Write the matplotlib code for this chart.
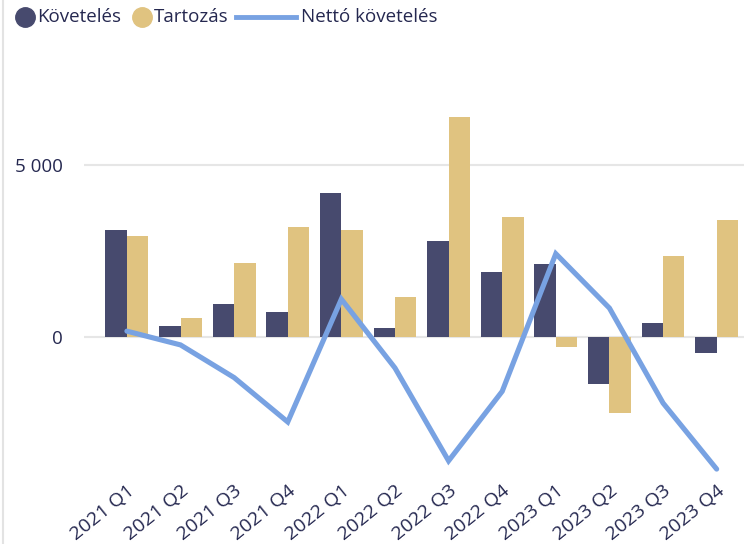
import matplotlib
matplotlib.use("Agg")
import matplotlib.pyplot as plt
from matplotlib.lines import Line2D
from matplotlib.transforms import ScaledTranslation
import numpy as np

categories = ["2021 Q1", "2021 Q2", "2021 Q3", "2021 Q4",
              "2022 Q1", "2022 Q2", "2022 Q3", "2022 Q4",
              "2023 Q1", "2023 Q2", "2023 Q3", "2023 Q4"]
koveteles = [3100, 320, 960, 730, 4190, 260, 2790, 1890, 2120, -1370, 410, -460]
tartozas = [2950, 550, 2150, 3200, 3110, 1160, 6400, 3490, -280, -2200, 2350, 3400]
netto = [170, -230, -1180, -2470, 1100, -900, -3600, -1580, 2420, 840, -1920, -3840]
ytick_vals = [0, 5000]
ytick_labels = ["0", "5 000"]

C_K = "#474A6E"
C_T = "#E0C380"
C_N = "#78A2E2"
C_TXT = "#252850"
FONT = "Open Sans"

plt.rcParams["font.family"] = [FONT, "DejaVu Sans"]

fig = plt.figure(figsize=(7.44, 5.44), dpi=100)
ax = fig.add_axes([84 / 744, 69 / 544, 660 / 744, 435 / 544])

x = np.arange(len(categories))
w = 0.4
ax.bar(x - w / 2, koveteles, width=w, color=C_K, zorder=2)
ax.bar(x + w / 2, tartozas, width=w, color=C_T, zorder=2)
ax.plot(x, netto, color=C_N, lw=3.7, solid_capstyle="round",
        solid_joinstyle="miter", zorder=3)

ax.set_xlim(-0.8, 11.51)
ax.set_ylim(-4012, 8634)
ax.set_yticks(ytick_vals)
ax.set_yticklabels(ytick_labels)
ax.set_xticks(x)
ax.set_xticklabels(categories, rotation=39, ha="right",
                   rotation_mode="anchor")
shift = ScaledTranslation(-6 / 100, 0, fig.dpi_scale_trans)
for lbl in ax.get_xticklabels():
    lbl.set_transform(lbl.get_transform() + shift)
ax.tick_params(axis="both", length=0, colors=C_TXT, labelsize=13.5)
ax.tick_params(axis="x", labelsize=14, pad=5)
ax.tick_params(axis="y", pad=15)
for s in ax.spines.values():
    s.set_visible(False)
ax.set_axisbelow(True)
ax.yaxis.grid(True, color="#E6E6E6", lw=1.5, zorder=0)
ax.xaxis.grid(False)

# left border line
fig.add_artist(Line2D([3 / 744, 3 / 744], [0, 1], color="#E3E3E3", lw=1.5,
                      transform=fig.transFigure))

# legend
ly = 1 - 17 / 544
def fx(px):
    return px / 744
fs_leg = 13.5
fig.add_artist(Line2D([fx(25)], [ly], marker="o", markersize=14,
                      color=C_K, transform=fig.transFigure, lw=0))
fig.text(fx(37), ly, "Követelés", color=C_TXT, fontsize=fs_leg,
         va="center", ha="left")
fig.add_artist(Line2D([fx(142)], [ly], marker="o", markersize=14,
                      color=C_T, transform=fig.transFigure, lw=0))
fig.text(fx(154), ly, "Tartozás", color=C_TXT, fontsize=fs_leg,
         va="center", ha="left")
fig.add_artist(Line2D([fx(236), fx(296)], [ly, ly], color=C_N, lw=3.5,
                      transform=fig.transFigure))
fig.text(fx(301), ly, "Nettó követelés", color=C_TXT, fontsize=fs_leg,
         va="center", ha="left")

fig.savefig("out.png", dpi=100, facecolor="white")
